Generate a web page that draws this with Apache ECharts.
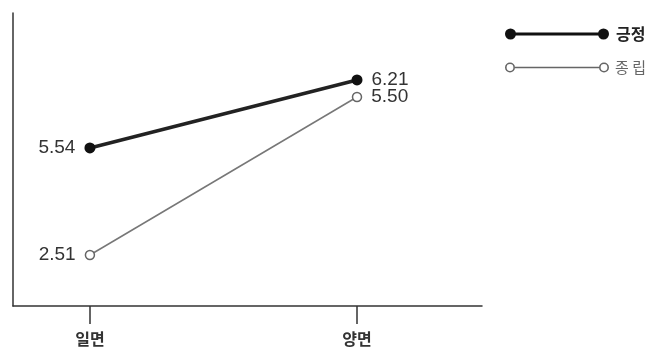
<!DOCTYPE html>
<html>
<head>
<meta charset="utf-8">
<script src="https://cdn.jsdelivr.net/npm/echarts@6/dist/echarts.min.js"></script>
<style>
  html, body { margin: 0; padding: 0; background: #fff; }
  #chart { width: 656px; height: 352px; }
</style>
</head>
<body>
<div id="chart"></div>
<script>
// Conditions on the horizontal axis
const categories = ['일면', '양면'];
// Group names
const seriesNames = ['긍정', '종 립'];
// Mean scores per condition
const positiveValues = [5.54, 6.21];
const neutralValues = [2.51, 5.50];

const KR_FONT = '"Noto Sans CJK KR", "Noto Sans", sans-serif';
const NUM_FONT = '"Liberation Sans", Arial, sans-serif';

// Legend glyphs: a line with a marker at each end
const solidIcon = 'path://M0,5.5a5.5,5.5 0 1,1 11,0a5.5,5.5 0 1,1 -11,0Z' +
  'M10,4L94,4L94,7L10,7Z' +
  'M93,5.5a5.5,5.5 0 1,1 11,0a5.5,5.5 0 1,1 -11,0Z';
const hollowIcon = 'path://M0,5.5a5,5 0 1,1 10,0a5,5 0 1,1 -10,0Z' +
  'M1.6,5.5a3.4,3.4 0 1,0 6.8,0a3.4,3.4 0 1,0 -6.8,0Z' +
  'M10,4.8L94,4.8L94,6.2L10,6.2Z' +
  'M94,5.5a5,5 0 1,1 10,0a5,5 0 1,1 -10,0Z' +
  'M95.6,5.5a3.4,3.4 0 1,0 6.8,0a3.4,3.4 0 1,0 -6.8,0Z';

// Values of the first condition are labelled on the left, the second on the right
const toPoints = vals => vals.map((v, i) => ({
  value: [i, v],
  label: { position: i === 0 ? 'left' : 'right' }
}));

const valueLabel = {
  show: true,
  formatter: p => p.value[1].toFixed(2),
  fontFamily: NUM_FONT,
  fontSize: 19,
  color: '#333',
  distance: 9
};

const chart = echarts.init(document.getElementById('chart'), null, { renderer: 'canvas' });

chart.setOption({
  animation: false,
  backgroundColor: '#fff',
  grid: { left: 13, right: 174, top: 13, bottom: 46 },
  legend: {
    left: 500,
    top: 21,
    orient: 'vertical',
    itemWidth: 104,
    itemHeight: 11,
    itemGap: 18,
    selectedMode: false,
    data: [
      {
        name: seriesNames[0],
        icon: solidIcon,
        itemStyle: { color: '#111', borderWidth: 0 },
        textStyle: { fontFamily: KR_FONT, fontSize: 16, fontWeight: 'bold', color: '#222', padding: [0, 0, 0, 2] }
      },
      {
        name: seriesNames[1],
        icon: hollowIcon,
        itemStyle: { color: '#666', borderWidth: 0 },
        textStyle: { fontFamily: KR_FONT, fontSize: 15, color: '#666', padding: [0, 0, 0, 1] }
      }
    ]
  },
  xAxis: {
    type: 'value',
    min: -0.288,
    max: 1.468,
    splitLine: { show: false },
    axisLine: { show: true, onZero: false, lineStyle: { color: '#333', width: 1.5 } },
    axisTick: { show: true, customValues: [0, 1], length: 18, lineStyle: { color: '#333', width: 1.5 } },
    axisLabel: {
      customValues: [0, 1],
      margin: 25,
      formatter: v => categories[Math.round(v)],
      fontFamily: KR_FONT,
      fontSize: 16,
      fontWeight: 'bold',
      color: '#333'
    }
  },
  yAxis: [
    {
      type: 'value',
      min: 3.983,
      max: 6.870,
      axisLine: { show: true, onZero: false, lineStyle: { color: '#333', width: 1.5 } },
      axisTick: { show: false },
      axisLabel: { show: false },
      splitLine: { show: false }
    },
    {
      type: 'value',
      min: 1.545,
      max: 7.090,
      show: false,
      splitLine: { show: false }
    }
  ],
  series: [
    {
      name: seriesNames[0],
      type: 'line',
      yAxisIndex: 0,
      data: toPoints(positiveValues),
      symbol: 'circle',
      symbolSize: 11,
      itemStyle: { color: '#111' },
      lineStyle: { color: '#222', width: 3.5 },
      label: valueLabel,
      z: 3
    },
    {
      name: seriesNames[1],
      type: 'line',
      yAxisIndex: 1,
      data: toPoints(neutralValues),
      symbol: 'circle',
      symbolSize: 9,
      itemStyle: { color: '#fff', borderColor: '#666', borderWidth: 1.5 },
      lineStyle: { color: '#777', width: 1.5 },
      label: valueLabel,
      z: 2
    }
  ]
});
</script>
</body>
</html>
